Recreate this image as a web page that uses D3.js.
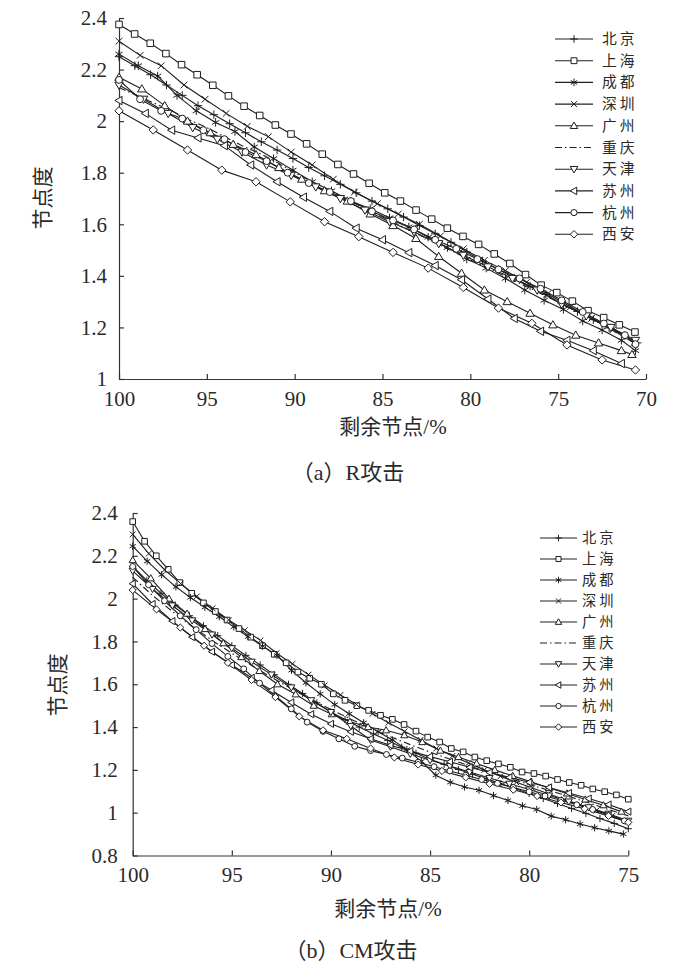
<!DOCTYPE html>
<html>
<head>
<meta charset="utf-8">
<script src="https://cdn.jsdelivr.net/npm/d3@7"></script>
<style>
  body { margin: 0; background: #fff; }
  svg { display: block; }
</style>
</head>
<body>
<svg id="chart" width="700" height="969"></svg>
<script>
// --- Data ---

const cities = ['北京', '上海', '成都', '深圳', '广州', '重庆', '天津', '苏州', '杭州', '西安'];

// (a) R攻击: [剩余节点 %, 节点度]
const rBeijing = [[100,2.25],[99.1,2.215],[98.2,2.18],[97.3,2.14],[96.4,2.1],[95.5,2.06],[94.6,2.025],[93.7,1.99],[92.8,1.955],[91.9,1.92],[91,1.888],[90.1,1.855],[89.2,1.82],[88.3,1.788],[87.4,1.755],[86.5,1.722],[85.6,1.69],[84.7,1.66],[83.8,1.628],[82.9,1.595],[82,1.563],[81.1,1.53],[80.2,1.492],[79.3,1.458],[78.4,1.425],[77.5,1.392],[76.6,1.36],[75.7,1.328],[74.8,1.292],[73.9,1.262],[73,1.23],[72.1,1.198],[71.2,1.168],[70.5,1.14]];
const rShanghai = [[100,2.375],[99.11,2.338],[98.22,2.302],[97.33,2.262],[96.44,2.219],[95.55,2.18],[94.66,2.139],[93.77,2.098],[92.88,2.058],[91.99,2.022],[91.1,1.985],[90.21,1.95],[89.32,1.912],[88.43,1.872],[87.54,1.832],[86.65,1.795],[85.76,1.759],[84.87,1.722],[83.98,1.69],[83.09,1.655],[82.2,1.62],[81.31,1.585],[80.42,1.553],[79.53,1.522],[78.64,1.485],[77.75,1.448],[76.86,1.405],[75.97,1.364],[75.08,1.335],[74.19,1.302],[73.3,1.265],[72.41,1.238],[71.52,1.21],[70.63,1.182]];
const rChengdu = [[100,2.26],[98.9,2.215],[97.8,2.175],[96.7,2.1],[95.6,2.04],[94.5,1.995],[93.4,1.96],[92.3,1.9],[91.2,1.855],[90.1,1.81],[89,1.765],[87.9,1.73],[86.8,1.69],[85.7,1.66],[84.6,1.625],[83.5,1.59],[82.4,1.55],[81.3,1.51],[80.2,1.465],[79.1,1.43],[78,1.39],[76.9,1.345],[75.8,1.305],[74.7,1.27],[73.6,1.225],[72.5,1.19],[71.4,1.15],[70.6,1.11]];
const rShenzhen = [[100,2.31],[98.8,2.255],[97.6,2.215],[96.3,2.14],[95.1,2.085],[93.9,2.03],[92.7,1.98],[91.5,1.94],[90.2,1.88],[89,1.83],[87.8,1.775],[86.6,1.725],[85.3,1.68],[84.1,1.64],[82.9,1.6],[81.7,1.555],[80.4,1.505],[79.2,1.46],[78,1.42],[76.8,1.375],[75.6,1.33],[74.3,1.28],[73.1,1.235],[71.9,1.19],[70.7,1.14]];
const rGuangzhou = [[100,2.17],[98.7,2.125],[97.4,2.06],[96.1,2.0],[94.8,1.955],[93.5,1.91],[92.2,1.87],[90.9,1.82],[89.6,1.775],[88.3,1.73],[87,1.69],[85.7,1.64],[84.4,1.595],[83.1,1.545],[81.8,1.475],[80.5,1.41],[79.2,1.345],[77.9,1.3],[76.6,1.255],[75.3,1.21],[74,1.17],[72.7,1.14],[71.4,1.11],[70.8,1.095]];
const rChongqing = [[100,2.13],[99,2.1],[98,2.07],[97,2.04],[96,2.005],[95,1.975],[94,1.94],[93,1.905],[92,1.875],[91,1.84],[90,1.8],[89,1.765],[88,1.73],[87,1.695],[86,1.662],[85,1.628],[84,1.595],[83,1.562],[82,1.528],[81,1.495],[80,1.462],[79,1.43],[78,1.398],[77,1.365],[76,1.332],[75,1.298],[74,1.265],[73,1.23],[72,1.195],[71,1.16],[70.5,1.12]];
const rTianjin = [[100,2.14],[98.6,2.085],[97.2,2.03],[95.8,1.975],[94.4,1.93],[93,1.88],[91.6,1.83],[90.2,1.79],[88.8,1.745],[87.4,1.7],[86,1.655],[84.6,1.61],[83.2,1.57],[81.8,1.525],[80.4,1.48],[79,1.435],[77.6,1.39],[76.2,1.345],[74.8,1.29],[73.4,1.245],[72,1.2],[70.6,1.15]];
const rSuzhou = [[100,2.08],[98.5,2.03],[97,1.965],[95.5,1.935],[94,1.905],[92.5,1.83],[91,1.765],[89.5,1.705],[88,1.65],[86.5,1.585],[85,1.54],[83.5,1.49],[82,1.44],[80.5,1.385],[79,1.31],[77.5,1.235],[76,1.185],[74.5,1.15],[73,1.11],[71.4,1.06]];
const rHangzhou = [[100,2.16],[98.8,2.085],[97.6,2.04],[96.4,2.01],[95.2,1.965],[94,1.93],[92.8,1.88],[91.6,1.845],[90.4,1.8],[89.2,1.76],[88,1.725],[86.8,1.69],[85.6,1.65],[84.4,1.615],[83.2,1.58],[82,1.54],[80.8,1.505],[79.6,1.465],[78.4,1.425],[77.2,1.39],[76,1.35],[74.8,1.305],[73.6,1.26],[72.4,1.215],[71.2,1.17],[70.6,1.135]];
const rXian = [[100,2.04],[98.05,1.966],[96.1,1.888],[94.15,1.81],[92.2,1.765],[90.25,1.687],[88.3,1.61],[86.35,1.552],[84.4,1.491],[82.4,1.43],[80.4,1.355],[78.4,1.275],[76.5,1.216],[74.5,1.132],[72.5,1.074],[70.6,1.035]];

// (b) CM攻击: [剩余节点 %, 节点度]
const cmBeijing = [[100,2.15],[99.29,2.085],[98.57,2.025],[97.86,1.97],[97.14,1.92],[96.43,1.873],[95.71,1.827],[95,1.78],[94.29,1.735],[93.57,1.69],[92.86,1.645],[92.14,1.6],[91.43,1.557],[90.71,1.513],[90,1.47],[89.29,1.435],[88.57,1.4],[87.86,1.368],[87.14,1.338],[86.43,1.306],[85.71,1.278],[85,1.25],[84.29,1.226],[83.57,1.202],[82.86,1.18],[82.14,1.158],[81.43,1.135],[80.71,1.112],[80,1.09],[79.29,1.066],[78.57,1.043],[77.86,1.02],[77.14,0.997],[76.43,0.973],[75.71,0.95],[75,0.925]];
const cmShanghai = [[100,2.36],[99.4,2.268],[98.81,2.2],[98.21,2.137],[97.62,2.075],[97.02,2.025],[96.43,1.98],[95.83,1.94],[95.24,1.9],[94.64,1.86],[94.05,1.82],[93.45,1.78],[92.86,1.74],[92.26,1.7],[91.67,1.657],[91.07,1.628],[90.48,1.6],[89.88,1.555],[89.29,1.525],[88.69,1.5],[88.1,1.478],[87.5,1.455],[86.9,1.436],[86.31,1.412],[85.71,1.381],[85.12,1.353],[84.52,1.33],[83.93,1.3],[83.33,1.284],[82.74,1.26],[82.14,1.243],[81.55,1.228],[80.95,1.212],[80.36,1.19],[79.76,1.183],[79.17,1.171],[78.57,1.155],[77.98,1.141],[77.38,1.128],[76.79,1.111],[76.19,1.098],[75.6,1.083],[75,1.063]];
const cmChengdu = [[100,2.245],[99.27,2.175],[98.54,2.112],[97.82,2.055],[97.09,2.005],[96.36,1.96],[95.63,1.915],[94.9,1.868],[94.18,1.822],[93.45,1.778],[92.72,1.735],[91.99,1.665],[91.26,1.607],[90.54,1.555],[89.81,1.505],[89.08,1.462],[88.35,1.42],[87.62,1.378],[86.9,1.34],[86.17,1.295],[85.44,1.24],[84.71,1.175],[83.98,1.142],[83.26,1.12],[82.53,1.105],[81.8,1.08],[81.07,1.057],[80.34,1.032],[79.62,1.015],[78.89,0.984],[78.16,0.967],[77.43,0.947],[76.7,0.93],[75.98,0.915],[75.25,0.9]];
const cmShenzhen = [[100,2.3],[99.19,2.21],[98.39,2.135],[97.58,2.07],[96.77,2.01],[95.97,1.955],[95.16,1.9],[94.35,1.852],[93.55,1.805],[92.74,1.745],[91.94,1.695],[91.13,1.645],[90.32,1.595],[89.52,1.55],[88.71,1.505],[87.9,1.462],[87.1,1.42],[86.29,1.38],[85.48,1.34],[84.68,1.3],[83.87,1.265],[83.06,1.232],[82.26,1.2],[81.45,1.17],[80.65,1.142],[79.84,1.115],[79.03,1.088],[78.23,1.062],[77.42,1.037],[76.61,1.01],[75.81,0.985],[75,0.958]];
const cmGuangzhou = [[100,2.18],[99.09,2.095],[98.17,2.0],[97.26,1.93],[96.35,1.858],[95.43,1.792],[94.52,1.727],[93.61,1.662],[92.7,1.6],[91.78,1.553],[90.87,1.5],[89.96,1.46],[89.04,1.425],[88.13,1.4],[87.22,1.385],[86.3,1.362],[85.39,1.33],[84.48,1.29],[83.57,1.26],[82.65,1.23],[81.74,1.2],[80.83,1.172],[79.91,1.145],[79,1.115],[78.09,1.09],[77.17,1.062],[76.26,1.035],[75.35,1.005]];
const cmChongqing = [[100,2.1],[99,2.015],[98,1.94],[97,1.87],[96,1.805],[95,1.745],[94,1.688],[93,1.632],[92,1.58],[91,1.53],[90,1.482],[89,1.437],[88,1.395],[87,1.355],[86,1.318],[85,1.283],[84,1.25],[83,1.218],[82,1.188],[81,1.16],[80,1.132],[79,1.104],[78,1.076],[77,1.046],[76,1.015],[75,0.985]];
const cmTianjin = [[100,2.13],[99,2.045],[98,1.968],[97,1.898],[96,1.832],[95,1.768],[94,1.705],[93,1.645],[92,1.585],[91,1.525],[90,1.47],[89,1.405],[88,1.34],[87,1.308],[86,1.275],[85,1.245],[84,1.218],[83,1.19],[82,1.162],[81,1.135],[80,1.108],[79,1.08],[78,1.052],[77,1.025],[76,0.995],[75,0.962]];
const cmSuzhou = [[100,2.07],[99,1.975],[98,1.895],[97,1.82],[96,1.752],[95,1.69],[94,1.63],[93,1.572],[92,1.515],[91,1.46],[90,1.415],[89,1.378],[88,1.345],[87,1.315],[86,1.288],[85,1.262],[84,1.238],[83,1.212],[82,1.188],[81,1.165],[80,1.142],[79,1.118],[78,1.092],[77,1.066],[76,1.038],[75,1.005]];
const cmHangzhou = [[100,2.15],[99.2,2.065],[98.4,1.99],[97.6,1.92],[96.8,1.855],[96,1.79],[95.2,1.73],[94.4,1.672],[93.6,1.605],[92.8,1.545],[92,1.485],[91.2,1.423],[90.4,1.38],[89.6,1.345],[88.8,1.31],[88,1.29],[87.2,1.272],[86.4,1.255],[85.6,1.236],[84.8,1.215],[84,1.195],[83.2,1.175],[82.4,1.155],[81.6,1.137],[80.8,1.118],[80,1.098],[79.2,1.078],[78.4,1.058],[77.6,1.037],[76.8,1.015],[76,0.99],[75.2,0.962]];
const cmXian = [[100,2.04],[98.8,1.95],[97.6,1.865],[96.4,1.78],[95.2,1.7],[94,1.62],[92.8,1.54],[91.6,1.45],[90.4,1.385],[89.2,1.345],[88,1.3],[86.8,1.258],[85.6,1.225],[84.4,1.195],[83.2,1.165],[82,1.135],[80.8,1.107],[79.6,1.078],[78.4,1.048],[77.2,1.018],[76,0.985],[75,0.955]];

const rSeries = [rBeijing, rShanghai, rChengdu, rShenzhen, rGuangzhou, rChongqing, rTianjin, rSuzhou, rHangzhou, rXian];
const cmSeries = [cmBeijing, cmShanghai, cmChengdu, cmShenzhen, cmGuangzhou, cmChongqing, cmTianjin, cmSuzhou, cmHangzhou, cmXian];

const rXTicks = [100, 95, 90, 85, 80, 75, 70];
const rYTicks = [1, 1.2, 1.4, 1.6, 1.8, 2, 2.2, 2.4];
const cmXTicks = [100, 95, 90, 85, 80, 75];
const cmYTicks = [0.8, 1, 1.2, 1.4, 1.6, 1.8, 2, 2.2, 2.4];

// --- Style ---

const INK = '#1e1e1e';
const LATIN = '"Liberation Serif", "Noto Sans CJK SC", serif';
const CJK = '"Noto Sans CJK SC", sans-serif';
const markerKinds = ['plus', 'square', 'star', 'cross', 'triUp', 'none', 'triDown', 'triLeft', 'circle', 'diamond'];

// Marker path centred on 0,0, half size s
function markerPath(kind, s) {
  const c = Math.cos(Math.PI / 6) * s, h = s * 0.5;
  switch (kind) {
    case 'plus': return `M${-s},0H${s}M0,${-s}V${s}`;
    case 'cross': { const k = s * 0.8; return `M${-k},${-k}L${k},${k}M${-k},${k}L${k},${-k}`; }
    case 'star': return `M0,${-s}V${s}M${-c},${-h}L${c},${h}M${-c},${h}L${c},${-h}`;
    case 'square': { const k = s * 0.78; return `M${-k},${-k}H${k}V${k}H${-k}Z`; }
    case 'triUp': return `M0,${-s}L${s},${s * 0.72}L${-s},${s * 0.72}Z`;
    case 'triDown': return `M0,${s}L${s},${-s * 0.72}L${-s},${-s * 0.72}Z`;
    case 'triLeft': return `M${-s},0L${s * 0.72},${-s}L${s * 0.72},${s}Z`;
    case 'diamond': return `M0,${-s}L${s},0L0,${s}L${-s},0Z`;
    case 'circle': { const r = s * 0.82; return `M${r},0A${r},${r} 0 1,1 ${-r},0A${r},${r} 0 1,1 ${r},0Z`; }
    default: return '';
  }
}

const svg = d3.select('#chart');
svg.append('rect').attr('width', 700).attr('height', 969).attr('fill', '#fff');

const fmt = d => String(+d.toFixed(1));

function drawChart(cfg) {
  const x = d3.scaleLinear().domain(cfg.xDomain).range([cfg.left, cfg.right]);
  const y = d3.scaleLinear().domain(cfg.yDomain).range([cfg.bottom, cfg.top]);
  const g = svg.append('g');

  // Axes
  const yAxis = d3.axisLeft(y).tickValues(cfg.yTicks).tickFormat(fmt)
    .tickSizeInner(-5).tickSizeOuter(0).tickPadding(cfg.yPad);
  const xAxis = d3.axisBottom(x).tickValues(cfg.xTicks).tickFormat(fmt)
    .tickSizeInner(-5).tickSizeOuter(0).tickPadding(12);

  const ya = g.append('g').attr('transform', `translate(${cfg.left},0)`).call(yAxis);
  const xa = g.append('g').attr('transform', `translate(0,${cfg.bottom})`).call(xAxis);
  for (const a of [ya, xa]) {
    a.attr('font-family', LATIN).attr('font-size', 21);
    a.selectAll('path, line').attr('stroke', '#333').attr('stroke-width', 1.2);
    a.selectAll('text').attr('fill', '#2a2a2a');
  }

  // Lines
  const line = d3.line().x(d => x(d[0])).y(d => y(d[1]));
  cfg.series.forEach((data, i) => {
    g.append('path')
      .datum(data)
      .attr('d', line)
      .attr('fill', 'none')
      .attr('stroke', INK)
      .attr('stroke-width', 1.1)
      .attr('stroke-dasharray', markerKinds[i] === 'none' ? '7,3,1.5,3' : null);
  });

  // Markers
  cfg.series.forEach((data, i) => {
    const kind = markerKinds[i];
    if (kind === 'none') return;
    g.append('g').selectAll('path')
      .data(data)
      .join('path')
      .attr('transform', d => `translate(${x(d[0])},${y(d[1])})`)
      .attr('d', markerPath(kind, cfg.ms))
      .attr('fill', '#fff')
      .attr('stroke', INK)
      .attr('stroke-width', 1);
  });

  // Legend
  const lg = g.append('g');
  cities.forEach((name, i) => {
    const ly = cfg.legY + i * cfg.legStep;
    lg.append('line')
      .attr('x1', cfg.legX0).attr('x2', cfg.legX1)
      .attr('y1', ly).attr('y2', ly)
      .attr('stroke', INK).attr('stroke-width', 1.1)
      .attr('stroke-dasharray', markerKinds[i] === 'none' ? '7,3,1.5,3' : null);
    if (markerKinds[i] !== 'none') {
      lg.append('path')
        .attr('transform', `translate(${(cfg.legX0 + cfg.legX1) / 2},${ly})`)
        .attr('d', markerPath(markerKinds[i], cfg.ms * 0.9))
        .attr('fill', '#fff').attr('stroke', INK).attr('stroke-width', 1);
    }
    // font sized so each label's box fits its row
    lg.append('text')
      .attr('x', cfg.legText).attr('y', ly + 5)
      .attr('font-family', CJK)
      .attr('font-size', cfg.legFont)
      .attr('letter-spacing', 3)
      .attr('fill', '#2a2a2a')
      .text(name);
  });

  // Titles
  g.append('text')
    .attr('transform', `translate(${cfg.yTitle[0]},${cfg.yTitle[1]}) rotate(-90)`)
    .attr('text-anchor', 'middle').attr('dominant-baseline', 'central')
    .attr('font-family', CJK).attr('font-size', 21)
    .attr('fill', '#2a2a2a')
    .text('节点度');
  g.append('text')
    .attr('x', cfg.xTitle[0]).attr('y', cfg.xTitle[1])
    .attr('text-anchor', 'middle')
    .attr('font-family', LATIN).attr('font-size', 21)
    .attr('fill', '#2a2a2a')
    .text('剩余节点/%');
  g.append('text')
    .attr('x', cfg.caption[0]).attr('y', cfg.caption[1])
    .attr('text-anchor', 'middle')
    .attr('font-family', LATIN).attr('font-size', 22)
    .attr('fill', '#2a2a2a')
    .text(cfg.captionText);
}

drawChart({
  series: rSeries,
  xDomain: [100, 70], yDomain: [1, 2.4],
  xTicks: rXTicks, yTicks: rYTicks,
  left: 119, right: 646, top: 18, bottom: 379,
  yPad: 12, ms: 4.2,
  legX0: 555, legX1: 593, legText: 602, legY: 39, legStep: 21.7, legFont: 14.8,
  yTitle: [41, 198], xTitle: [393, 434], caption: [348, 480],
  captionText: '（a）R攻击'
});

drawChart({
  series: cmSeries,
  xDomain: [100, 75], yDomain: [0.8, 2.4],
  xTicks: cmXTicks, yTicks: cmYTicks,
  left: 132.7, right: 628.3, top: 513, bottom: 855.5,
  yPad: 15, ms: 3.6,
  legX0: 540, legX1: 577, legText: 582, legY: 538, legStep: 21, legFont: 14.3,
  yTitle: [56, 685], xTitle: [388, 916], caption: [351, 958],
  captionText: '（b）CM攻击'
});
</script>
</body>
</html>
